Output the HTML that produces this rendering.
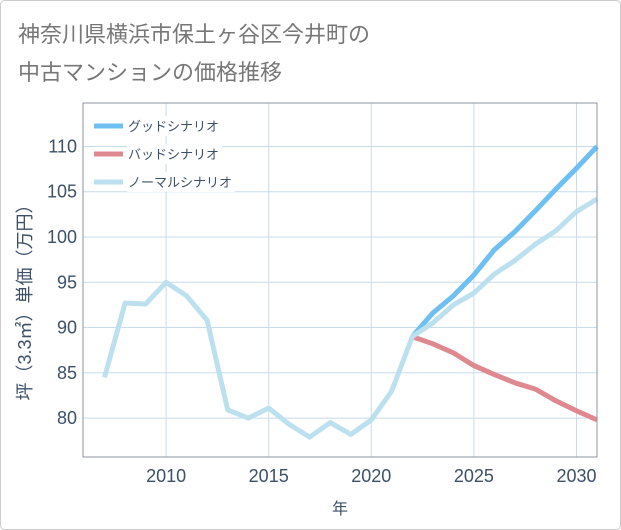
<!DOCTYPE html>
<html><head><meta charset="utf-8"><style>
body{margin:0;background:#fff;}
svg{display:block;font-family:"Liberation Sans","Noto Sans CJK JP",sans-serif;}
</style></head><body>
<svg id="chart" width="621" height="530">
<rect x="0.5" y="0.5" width="620" height="529" rx="4" fill="#fff" stroke="#ccc"/>
<text x="18" y="42" font-size="22" fill="#777">神奈川県横浜市保土ヶ谷区今井町の</text>
<text x="18" y="80" font-size="22" fill="#777">中古マンションの価格推移</text>
<g id="grid"></g>
<g id="ticks"></g>
<g id="series"></g>
<rect x="83" y="103" width="514" height="354" fill="none" stroke="#8c96a0" stroke-width="1"/>
<g id="legend"></g>
<text transform="translate(31,298) rotate(-90)" text-anchor="middle" font-size="18" fill="#3d5068">坪（3.3㎡）単価（万円）</text>
<text x="340" y="514" text-anchor="middle" font-size="16" fill="#3d5068">年</text>
</svg>
<script>
const years=[2007,2008,2009,2010,2011,2012,2013,2014,2015,2016,2017,2018,2019,2020,2021,2022,2023,2024,2025,2026,2027,2028,2029,2030,2031];
const normalValues=[84.5,92.7,92.6,95,93.5,90.8,80.9,80,81.1,79.3,77.9,79.5,78.2,79.8,83,89,90.5,92.5,93.8,95.9,97.4,99.2,100.7,102.8,104.2];
const futureYears=[2022,2023,2024,2025,2026,2027,2028,2029,2030,2031];
const goodValues=[89,91.6,93.5,95.8,98.6,100.6,102.9,105.3,107.6,110];
const badValues=[89,88.2,87.2,85.8,84.8,83.9,83.2,81.9,80.8,79.8];
const xTicks=[2010,2015,2020,2025,2030];
const yTicks=[80,85,90,95,100,105,110];
const legendLabels=["グッドシナリオ","バッドシナリオ","ノーマルシナリオ"];

const NS="http://www.w3.org/2000/svg";
const L=83,R=597,T=103,B=457,X0=2005.95,X1=2031,Y0=75.7,Y1=114.8;
const xs=v=>L+(v-X0)/(X1-X0)*(R-L);
const ys=v=>B-(v-Y0)/(Y1-Y0)*(B-T);
function mk(tag,attrs,parent){const e=document.createElementNS(NS,tag);for(const k in attrs)e.setAttribute(k,attrs[k]);parent.appendChild(e);return e;}
const grid=document.getElementById('grid'),ticks=document.getElementById('ticks'),series=document.getElementById('series'),legend=document.getElementById('legend');
yTicks.forEach(v=>{
 const l=mk('line',{x1:L,x2:R,y1:ys(v),y2:ys(v),stroke:'#c8dcea','stroke-width':1},grid);
 
 
 const t=mk('text',{x:L-6,y:ys(v)+6,'text-anchor':'end','font-size':18,fill:'#3d5068'},ticks);
 t.textContent=v;
 
 
});
xTicks.forEach(v=>{
 const l=mk('line',{x1:xs(v),x2:xs(v),y1:T,y2:B,stroke:'#c8dcea','stroke-width':1},grid);
 
 
 const t=mk('text',{x:xs(v),y:B+25,'text-anchor':'middle','font-size':18,fill:'#3d5068'},ticks);
 t.textContent=v;
 
 
});
function path(xv,yv){return xv.map((x,i)=>(i?'L':'M')+xs(x).toFixed(1)+','+ys(yv[i]).toFixed(1)).join(' ');}
const bad=mk('path',{d:path(futureYears,badValues),fill:'none',stroke:'#e08890','stroke-width':5,'stroke-linejoin':'round'},series);


const good=mk('path',{d:path(futureYears,goodValues),fill:'none',stroke:'#6ebff2','stroke-width':5,'stroke-linejoin':'round'},series);


const norm=mk('path',{d:path(years,normalValues),fill:'none',stroke:'#bde0ee','stroke-width':5,'stroke-linejoin':'round'},series);


const colors=['#6ebff2','#e08890','#bde0ee'];
legendLabels.forEach((lab,i)=>{
 const y=126+i*28;
 const bg=mk('rect',{x:127,y:y-10,width:lab.length*13+4,height:20,fill:'#fff'},legend);
 
 
 const ln=mk('line',{x1:94,x2:123,y1:y,y2:y,stroke:colors[i],'stroke-width':5},legend);
 
 
 const t=mk('text',{x:128,y:y+5,'font-size':13,fill:'#3d5068'},legend);
 t.textContent=lab;
 
 
});
</script>
</body></html>
